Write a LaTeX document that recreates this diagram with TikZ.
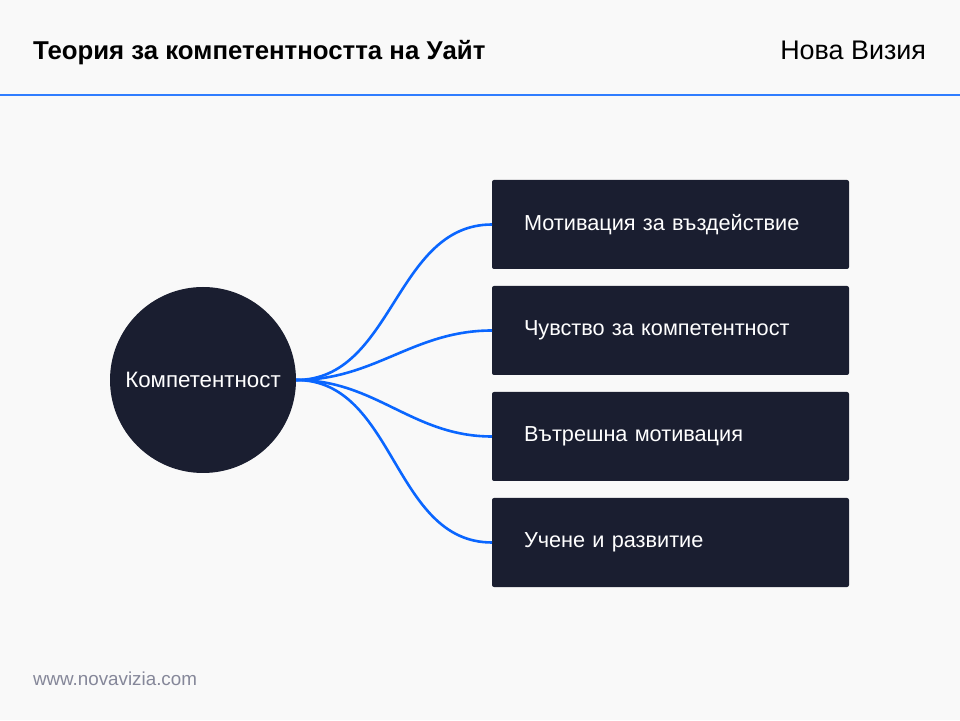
\documentclass[tikz,border=0pt]{standalone}
\usepackage{fontspec}
\setmainfont{Liberation Sans}
\usepackage{tikz}
\usetikzlibrary{positioning}
\usepackage{xcolor}
\definecolor{mydark}{HTML}{1A1E30}
\definecolor{myblue}{HTML}{0A66FF}
\definecolor{mybg}{HTML}{F9F9F9}
\definecolor{mygrey}{HTML}{858799}
\tikzset{node distance=17pt}
\tikzstyle{block} = [fill=mydark, text=white, rounded corners=2pt, minimum width=357pt, minimum height=89pt, text width=293pt, inner xsep=32pt, inner ysep=0pt, outer sep=0pt, align=left, font={\fontsize{21.7pt}{25pt}\selectfont}]
\tikzstyle{hub} = [circle, fill=mydark, text=white, minimum size=186pt, inner sep=0pt, font={\fontsize{22.3pt}{25pt}\selectfont}]
\tikzstyle{label} = [inner sep=0pt, outer sep=0pt]
\tikzstyle{ln} = [draw=myblue, line width=2.6pt, out=0, in=180]

\begin{document}
\begin{tikzpicture}[x=1pt, y=1pt]
  \fill[mybg] (0,0) rectangle (960,720);
  \useasboundingbox (0,0) rectangle (960,720);
  \draw[color=myblue!85!white, line width=2pt] (0,625) -- (960,625);
  % header and footer
  \node[label, anchor=base west, font={\fontsize{25.8pt}{30pt}\selectfont\bfseries}] (title) at (33,660) {Теория за компетентността на Уайт};
  \node[label, anchor=base east, font={\fontsize{26.9pt}{30pt}\selectfont}] (brand) at (926,660) {Нова Визия};
  \node[label, anchor=base west, text=mygrey, font={\fontsize{18.8pt}{22pt}\selectfont}] (site) at (33,35) {www.novavizia.com};
  % centre and boxes
  \node[hub] (comp) at (203,340) {Компетентност};
  \node[block] (impact) at (670.5,495.5) {Мотивация за въздействие};
  \node[block, below=of impact] (feel) {Чувство за компетентност};
  \node[block, below=of feel] (inner) {Вътрешна мотивация};
  \node[block, below=of inner] (learn) {Учене и развитие};
  \path[ln] (comp.east) edge (impact.west);
  \path[ln] (comp.east) edge (feel.west);
  \path[ln] (comp.east) edge (inner.west);
  \path[ln] (comp.east) edge (learn.west);
\end{tikzpicture}
\end{document}
